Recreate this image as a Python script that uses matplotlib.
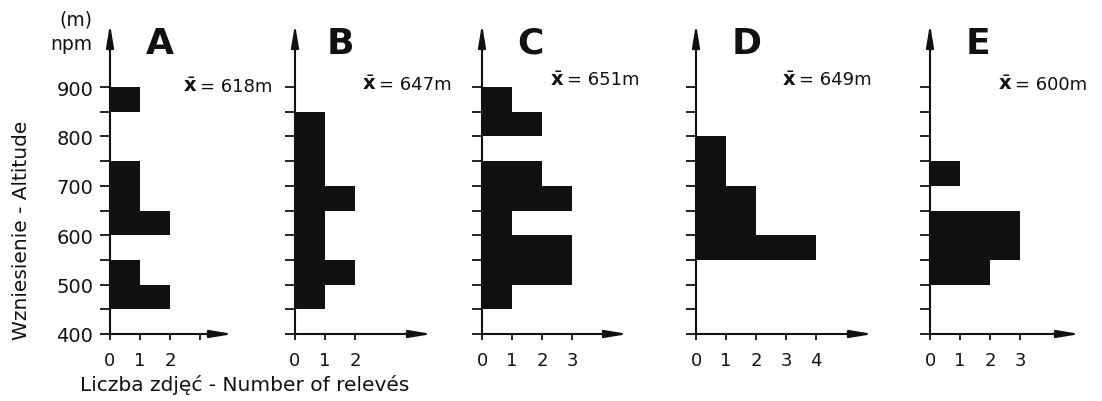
import numpy as np
import matplotlib
matplotlib.use("Agg")
import matplotlib.pyplot as plt

# altitude bins (lower edge, m), 50 m wide
bins = [400, 450, 500, 550, 600, 650, 700, 750, 800, 850]

# number of relevés per bin for each site
counts_A = [0, 2, 1, 0, 2, 1, 1, 0, 0, 1]
counts_B = [0, 1, 2, 1, 1, 2, 1, 1, 1, 0]
counts_C = [0, 1, 3, 3, 1, 3, 2, 0, 2, 1]
counts_D = [0, 0, 0, 4, 2, 2, 1, 1, 0, 0]
counts_E = [0, 0, 2, 3, 3, 0, 1, 0, 0, 0]

panels = ["A", "B", "C", "D", "E"]
means = ["618", "647", "651", "649", "600"]
xtick_labels = [
    ["0", "1", "2", ""],
    ["0", "1", "2"],
    ["0", "1", "2", "3"],
    ["0", "1", "2", "3", "4"],
    ["0", "1", "2", "3"],
]
ytick_vals = list(range(400, 901, 50))
ytick_text = ["400", "", "500", "", "600", "", "700", "", "800", "", "900"]

all_counts = [counts_A, counts_B, counts_C, counts_D, counts_E]

# layout (pixels in a 1102x402 figure)
W, H = 1102, 402
x_axis = [110, 295, 482, 696, 930]
x_end = [233, 432, 628, 873, 1080]
unit_px = 30.0
y_base, y_top = 335, 25
px_per_m = (335 - 88) / 500.0
ymax = 400 + (y_base - y_top) / px_per_m
letter_x = [160, 340, 530, 747, 978]
mean_x = [183, 362, 550, 782, 998]
mean_y = [87, 85, 80, 80, 85]

plt.rcParams['font.family'] = ['DejaVu Sans']
ink = "#111111"

fig = plt.figure(figsize=(W / 100, H / 100), dpi=100)

for i, counts in enumerate(all_counts):
    left = x_axis[i] / W
    width = (x_end[i] - x_axis[i]) / W
    ax = fig.add_axes([left, (H - y_base) / H, width, (y_base - y_top) / H])
    xmax = (x_end[i] - x_axis[i]) / unit_px

    ax.barh(bins, counts, height=50, align="edge", color=ink, linewidth=0)
    ax.set_xlim(0, xmax)
    ax.set_ylim(400, ymax)

    for s in ax.spines.values():
        s.set_visible(False)

    # axes drawn as arrows
    arrow = dict(arrowstyle="-|>,head_length=0.9,head_width=0.15",
                 color=ink, lw=1.5, mutation_scale=15, shrinkA=0, shrinkB=0)
    ax.annotate("", xy=(xmax, 400), xytext=(0, 400), arrowprops=arrow,
                annotation_clip=False)
    ax.annotate("", xy=(0, ymax), xytext=(0, 400), arrowprops=arrow,
                annotation_clip=False)

    ax.set_yticks(ytick_vals)
    if i == 0:
        ax.set_yticklabels(ytick_text, fontsize=14)
    else:
        ax.set_yticklabels([])
    ax.tick_params(axis="y", direction="out", length=7, width=1.3,
                   color=ink, labelcolor=ink, pad=5)

    ax.set_xticks(range(len(xtick_labels[i])))
    ax.set_xticklabels(xtick_labels[i], fontsize=13)
    ax.tick_params(axis="x", direction="out", length=4, width=1.3,
                   color=ink, labelcolor=ink, pad=8)
    ax.patch.set_alpha(0)

    fig.text(letter_x[i] / W, 1 - 44 / H, panels[i], fontsize=26,
             fontweight="heavy", ha="center", va="center", color=ink)
    # mean altitude: x-bar, then the value
    fig.text(mean_x[i] / W, 1 - mean_y[i] / H, r"$\bar{\mathbf{x}}$",
             fontsize=14, ha="left", va="center", color=ink)
    fig.text((mean_x[i] + 17) / W, 1 - mean_y[i] / H, "= " + means[i] + "m",
             fontsize=13, ha="left", va="center", color=ink)

fig.text(92 / W, 1 - 20 / H, "(m)", fontsize=13.5, ha="right", va="center", color=ink)
fig.text(92 / W, 1 - 45 / H, "npm", fontsize=13.5, ha="right", va="center", color=ink)
fig.text(22 / W, 1 - 230 / H, "Wzniesienie - Altitude", fontsize=14.5,
         rotation=90, ha="center", va="center", color=ink)
fig.text(245 / W, 1 - 385 / H, "Liczba zdjęć - Number of relevés", fontsize=14.5,
         ha="center", va="center", color=ink)

fig.savefig("out.png", dpi=100, facecolor="white")
